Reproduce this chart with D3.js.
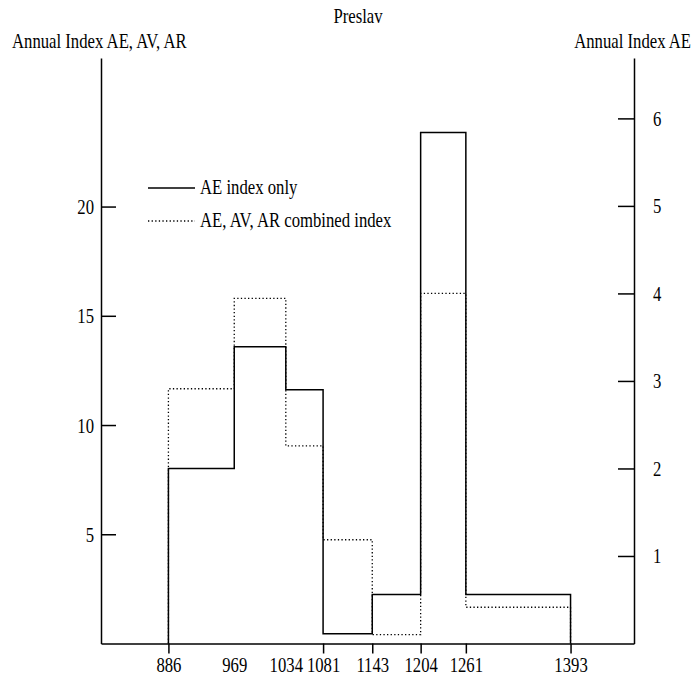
<!DOCTYPE html>
<html>
<head>
<meta charset="utf-8">
<script src="https://cdn.jsdelivr.net/npm/d3@7"></script>
<style>
  body { margin: 0; background: #fff; }
  text { font-family: "Liberation Serif", "Times New Roman", serif; fill: #000; }
</style>
</head>
<body>
<svg id="chart" width="695" height="675"></svg>
<script>
const title = "Preslav";
const leftAxisTitle = "Annual Index AE, AV, AR";
const rightAxisTitle = "Annual Index AE";
const breaks = [886, 969, 1034, 1081, 1143, 1204, 1261, 1393];
const aeIndex = [2.0, 3.39, 2.9, 0.11, 0.56, 5.84, 0.56];          // right axis
const combinedIndex = [11.66, 15.8, 9.05, 4.75, 0.41, 16.03, 1.66]; // left axis
const leftTicks = [5, 10, 15, 20];
const rightTicks = [1, 2, 3, 4, 5, 6];
const tickedYears = [886, 1081, 1143, 1204, 1261, 1393];
const legendLabels = ["AE index only", "AE, AV, AR combined index"];

const FS = 16.7;   // font size
const SY = 1.2;    // vertical stretch of the glyphs
const FONT = '"Liberation Serif", "Times New Roman", serif';

const svg = d3.select("#chart");
const x = d3.scaleLinear().domain([801, 1473]).range([101, 634]);
const yL = d3.scaleLinear().domain([0, 26.8]).range([643.5, 58]);
const yR = d3.scaleLinear().domain([0, 6.69]).range([643.5, 58]);

function stepPoints(vals) {
  const pts = [[breaks[0], 0]];
  vals.forEach((v, i) => pts.push([breaks[i], v]));
  pts.push([breaks[breaks.length - 1], vals[vals.length - 1]]);
  pts.push([breaks[breaks.length - 1], 0]);
  return pts;
}

function place(sel, tx, ty) {
  sel.attr("x", 0).attr("y", 0).attr("dy", null)
    .attr("font-family", FONT)
    .attr("font-size", FS)
    .attr("transform", `translate(${tx},${ty}) scale(1,${SY})`);
}

// axes
const fmt = d3.format("d");
const gL = svg.append("g").attr("transform", "translate(101,0)")
  .call(d3.axisLeft(yL).tickValues(leftTicks).tickFormat(fmt).tickSizeInner(-15).tickSizeOuter(0));
const gR = svg.append("g").attr("transform", "translate(634,0)")
  .call(d3.axisRight(yR).tickValues(rightTicks).tickFormat(fmt).tickSizeInner(-16).tickSizeOuter(0));
const gX = svg.append("g").attr("transform", "translate(0,643.5)")
  .call(d3.axisBottom(x).tickValues(breaks).tickFormat(fmt).tickSizeInner(10).tickSizeOuter(0));
gX.selectAll(".tick line").filter(d => !tickedYears.includes(d)).remove();

[gL, gR, gX].forEach(g => {
  g.attr("font-family", FONT).attr("font-size", null);
  g.selectAll("path.domain").attr("stroke", "#000").attr("stroke-width", 1.5);
  g.selectAll(".tick line").attr("stroke", "#000").attr("stroke-width", 1.5);
  g.selectAll("text").attr("fill", "#000");
});
place(gL.selectAll(".tick text"), -7, 7);
place(gR.selectAll(".tick text").attr("text-anchor", "start"), 19, 7);
place(gX.selectAll(".tick text"), 0, 28);

// step lines
const line = d3.line().curve(d3.curveStepAfter);
svg.append("path")
  .attr("d", line(stepPoints(combinedIndex).map(p => [x(p[0]), yL(p[1])])))
  .attr("fill", "none").attr("stroke", "#000").attr("stroke-width", 1.3)
  .attr("stroke-dasharray", "1.3,2.3");
svg.append("path")
  .attr("d", line(stepPoints(aeIndex).map(p => [x(p[0]), yR(p[1])])))
  .attr("fill", "none").attr("stroke", "#000").attr("stroke-width", 1.5);

// titles
place(svg.append("text").attr("text-anchor", "middle").text(title), 358, 23);
place(svg.append("text").attr("text-anchor", "start").text(leftAxisTitle), 12, 48);
place(svg.append("text").attr("text-anchor", "end").text(rightAxisTitle), 691, 48);

// legend
const legend = svg.append("g");
legendLabels.forEach((lab, i) => {
  const yy = 188 + i * 33;
  legend.append("line").attr("x1", 148).attr("x2", 195).attr("y1", yy).attr("y2", yy)
    .attr("stroke", "#000").attr("stroke-width", i === 0 ? 1.5 : 1.3)
    .attr("stroke-dasharray", i === 0 ? null : "1.3,2.3");
  place(legend.append("text").attr("text-anchor", "start").text(lab), 200, yy + 6);
});
</script>
</body>
</html>
